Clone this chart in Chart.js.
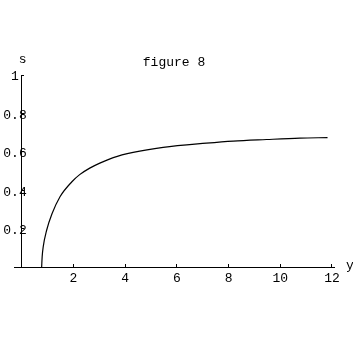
<!DOCTYPE html>
<html><head><meta charset="utf-8">
<script src="https://cdn.jsdelivr.net/npm/chart.js@4.4.1/dist/chart.umd.min.js"></script>
<style>html,body{margin:0;padding:0;background:#fff}#wrap{width:353px;height:338px}</style>
</head><body><div id="wrap"><canvas id="c" width="353" height="338"></canvas></div>
<script>
// horizontal variable "y" and plotted value "s"
const yValues = [0.77, 0.79, 0.83, 0.96, 1.17, 1.48, 1.94, 2.24, 2.63, 3.02, 3.54, 4.31, 5.47, 7.14, 8.18, 9.47, 10.76, 11.83];
const sValues = [0.0, 0.054, 0.105, 0.19, 0.277, 0.366, 0.444, 0.481, 0.515, 0.541, 0.570, 0.597, 0.623, 0.645, 0.656, 0.664, 0.671, 0.674];
const xTickValues = [2, 4, 6, 8, 10, 12];
const xTickLabels = ['2', '4', '6', '8', '10', '12'];
const sTickValues = [0.2, 0.4, 0.6, 0.8, 1];
const sTickLabels = ['0.2', '0.4', '0.6', '0.8', '1'];
const titleText = 'figure 8';
const xAxisName = 'y';
const yAxisName = 's';

const FONT_FAMILY = '"Liberation Mono", "Courier New", monospace';
const font = {family: FONT_FAMILY, size: 13, weight: 'normal'};

const axisNames = {
  id: 'axisNames',
  afterDraw(chart) {
    const ctx = chart.ctx;
    const xs = chart.scales.x, ys = chart.scales.y;
    ctx.save();
    ctx.font = '13px ' + FONT_FAMILY;
    ctx.fillStyle = '#000';
    ctx.textAlign = 'center';
    ctx.textBaseline = 'middle';
    ctx.fillText(yAxisName, xs.getPixelForValue(0) + 1, ys.getPixelForValue(1) - 15);
    ctx.fillText(xAxisName, xs.right + 16, ys.getPixelForValue(0) - 1);
    ctx.restore();
  }
};

new Chart(document.getElementById('c'), {
  type: 'line',
  data: {
    datasets: [{
      data: yValues.map((v, i) => ({x: v, y: sValues[i]})),
      borderColor: '#000',
      borderWidth: 1.2,
      pointRadius: 0,
      fill: false,
      cubicInterpolationMode: 'monotone'
    }]
  },
  options: {
    responsive: false,
    animation: false,
    devicePixelRatio: 1,
    layout: {padding: {left: 0, right: 19, top: 0, bottom: 51}},
    plugins: {
      legend: {display: false},
      tooltip: {enabled: false},
      title: {
        display: true, fullSize: false, text: titleText, color: '#000', font: font,
        padding: {top: 55, bottom: 4.4}
      }
    },
    scales: {
      x: {
        type: 'linear', position: 'bottom', min: -0.3, max: 12.08,
        afterBuildTicks: s => { s.ticks = xTickValues.map(v => ({value: v})); },
        afterFit: s => { s.height = 20; },
        grid: {display: true, drawOnChartArea: false, drawTicks: true, tickLength: -3, color: '#000', lineWidth: 1},
        border: {display: true, color: '#000', width: 1},
        ticks: {font: font, color: '#000', padding: 7, maxRotation: 0, autoSkip: false,
                callback: (v, i) => xTickLabels[i]}
      },
      y: {
        type: 'linear', position: {x: 0}, min: 0, max: 1,
        afterBuildTicks: s => { s.ticks = sTickValues.map(v => ({value: v})); },
        afterFit: s => { s.width = 0; },
        grid: {display: true, drawOnChartArea: false, drawTicks: true, tickLength: -3, color: '#000', lineWidth: 1},
        border: {display: true, color: '#000', width: 1},
        ticks: {display: false}
      },
      yLab: {
        type: 'linear', position: 'left', min: 0, max: 1,
        afterBuildTicks: s => { s.ticks = sTickValues.map(v => ({value: v})); },
        afterFit: s => { s.width = 14; },
        grid: {display: false, drawTicks: false},
        border: {display: false},
        ticks: {font: font, color: '#000', mirror: true, crossAlign: 'center', padding: -10.7, labelOffset: 2, autoSkip: false,
                callback: (v, i) => sTickLabels[i]}
      }
    }
  },
  plugins: [axisNames]
});
</script>
</body></html>
